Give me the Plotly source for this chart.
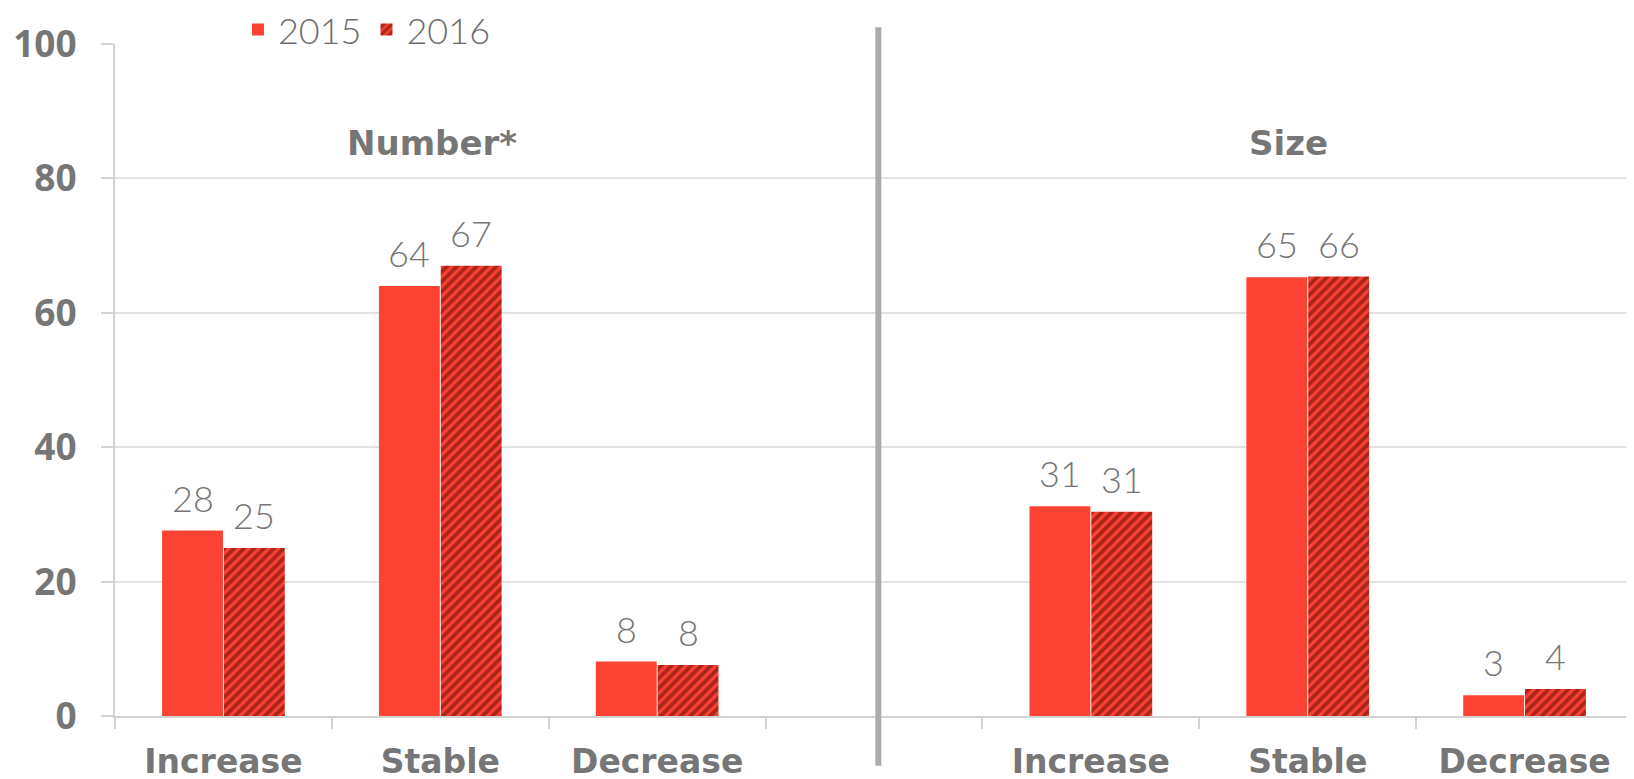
import plotly.graph_objects as go

# ---- data ----
categories = ["Increase", "Stable", "Decrease"]
panels = ["Number*", "Size"]
number_2015 = [27.6, 64.0, 8.1]
number_2016 = [25.0, 67.0, 7.6]
size_2015 = [31.2, 65.3, 3.1]
size_2016 = [30.4, 65.4, 4.0]
number_2015_labels = ["28", "64", "8"]
number_2016_labels = ["25", "67", "8"]
size_2015_labels = ["31", "65", "3"]
size_2016_labels = ["31", "66", "4"]
y_ticks = [0, 20, 40, 60, 80, 100]

# ---- styling ----
RED = "#fb4233"
DARK = "#5a0602"
GRAY = "#767676"
BARGAP = 0.43

left_x = [0, 1, 2]
right_x = [4, 5, 6]
xs = left_x + right_x
vals_2015 = number_2015 + size_2015
vals_2016 = number_2016 + size_2016
lab_2015 = number_2015_labels + size_2015_labels
lab_2016 = number_2016_labels + size_2016_labels

fig = go.Figure()
fig.add_trace(go.Bar(
    x=xs, y=vals_2015, name="2015",
    marker=dict(color=RED, line=dict(width=0)),
    offsetgroup="a",
))
fig.add_trace(go.Bar(
    x=xs, y=vals_2016, name="2016",
    marker=dict(color=RED, line=dict(width=0),
                pattern=dict(shape="/", fgcolor=DARK, bgcolor=RED,
                             size=7, solidity=0.55)),
    offsetgroup="b",
))

off = (1 - BARGAP) / 4
label_font = dict(family="Lato", size=36, color=GRAY, weight=300)
annotations = []
for xv, v, t in zip(xs, vals_2015, lab_2015):
    annotations.append(dict(x=xv - off, y=v, xref="x", yref="y", text=t,
                            showarrow=False, yanchor="bottom", yshift=9,
                            font=label_font))
for xv, v, t in zip(xs, vals_2016, lab_2016):
    annotations.append(dict(x=xv + off, y=v, xref="x", yref="y", text=t,
                            showarrow=False, yanchor="bottom", yshift=9,
                            font=label_font))
# panel titles
title_font = dict(family="DejaVu Sans", size=34, color=GRAY, weight="bold")
annotations.append(dict(x=0.96, y=0.853, xref="x", yref="paper", text=panels[0],
                        showarrow=False, yanchor="middle", font=title_font))
annotations.append(dict(x=4.91, y=0.853, xref="x", yref="paper", text=panels[1],
                        showarrow=False, yanchor="middle", font=title_font))

fig.update_layout(
    width=1634, height=779,
    margin=dict(l=107, r=9, t=36, b=71, autoexpand=False),
    paper_bgcolor="white", plot_bgcolor="white",
    barmode="group", bargap=BARGAP, bargroupgap=0.015,
    showlegend=True,
    legend=dict(orientation="h", x=0.081, xanchor="left", y=1.066, yanchor="top",
                font=dict(family="Lato", size=36, color="#6d6d6d", weight=300),
                itemwidth=30, tracegroupgap=0, bgcolor="rgba(0,0,0,0)"),
    annotations=annotations,
    shapes=[dict(type="line", xref="x", yref="paper", x0=3.02, x1=3.02,
                 y0=-0.074, y1=1.025, line=dict(color="#ababab", width=6))],
)

fig.update_xaxes(
    range=[-0.5, 6.5],
    tickmode="array", tickvals=xs, ticktext=categories + categories,
    ticks="", showgrid=False, zeroline=False,
    showline=True, linecolor="#d3d3d3", linewidth=2,
    tickfont=dict(family="DejaVu Sans", size=33, color=GRAY, weight="bold"),
    ticklabelstandoff=15,
    minor=dict(tick0=0.5, dtick=1, ticks="outside", ticklen=11,
               tickcolor="#d3d3d3", tickwidth=2, showgrid=False),
)
fig.update_yaxes(
    range=[0, 100], tickmode="array", tickvals=y_ticks,
    showgrid=True, gridcolor="#e2e2e2", gridwidth=1.5, zeroline=False,
    showline=True, linecolor="#d3d3d3", linewidth=2,
    ticks="outside", ticklen=12, tickcolor="#d3d3d3", tickwidth=2,
    tickfont=dict(family="Open Sans", size=37, color=GRAY, weight="bold"),
    ticklabelstandoff=17,
)

fig.write_html("out.html")
